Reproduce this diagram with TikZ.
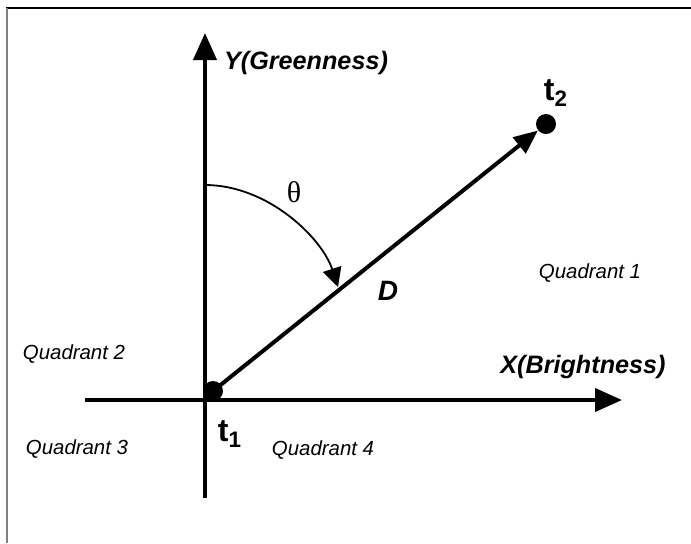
\documentclass[tikz,border=0pt]{standalone}
\usepackage{fontspec}
\setmainfont{Liberation Sans}
\newfontfamily\thetafont{Liberation Serif}
\usetikzlibrary{positioning,arrows.meta}

\begin{document}
\begin{tikzpicture}[
  x=0.5pt, y=-0.5pt,
  axis/.style={line width=2pt, -{Triangle[length=13.5pt,width=11.5pt]}},
  vec/.style={line width=2pt, -{Triangle[length=12pt,width=10pt]}},
  angarr/.style={line width=0.9pt, -{Triangle[length=9.5pt,width=9.5pt]}},
  dot/.style={circle, fill=black, minimum size=10pt, inner sep=0pt},
  axislabel/.style={font=\fontsize{12.6}{14}\selectfont\bfseries\itshape, inner sep=0pt},
  quad/.style={font=\fontsize{10.2}{12}\selectfont\itshape, inner sep=0pt},
  tlabel/.style={font=\fontsize{16}{18}\selectfont\bfseries, inner sep=0pt}
]
\useasboundingbox (0,0) rectangle (691,543);
% frame
\draw[line width=0.75pt] (7,543) -- (7,8) -- (691,8);
\draw[line width=0.75pt, gray] (7,543) -- (7,8);

% axes
\coordinate (ybot) at (205,498);
\coordinate (ytop) at (205,33);
\coordinate (xleft) at (85,400);
\coordinate (xright) at (622,400);
\draw[axis] (ybot) -- (ytop);
\draw[axis] (xleft) -- (xright);

% points
\node[dot] (t1dot) at (213,391) {};
\node[dot] (t2dot) at (546,124) {};
\draw[vec] (t1dot.center) -- (t2dot);

% angle
\coordinate (arcstart) at (205,185);
\coordinate (arcend) at (338,287);
\draw[angarr] (arcstart) .. controls (268,185) and (322,238) .. (arcend);
\node[font=\fontsize{15}{17}\selectfont\thetafont, inner sep=0pt] (theta) at (294,192) {θ};

% labels
\node[axislabel] (ylab) at (306,63) {Y(Greenness)};
\node[axislabel] (xlab) at (583,367) {X(Brightness)};
\node[axislabel, font=\fontsize{14}{16}\selectfont\bfseries\itshape] (dlab) at (388,291) {D};
\node[tlabel] (t1lab) at (230,434) {t\textsubscript{1}};
\node[tlabel] (t2lab) at (556,93) {t\textsubscript{2}};
\node[quad] (q1) at (590,273) {Quadrant 1};
\node[quad] (q2) at (74,354) {Quadrant 2};
\node[quad] (q3) at (77,449) {Quadrant 3};
\node[quad] (q4) at (323,450) {Quadrant 4};
\end{tikzpicture}
\end{document}
